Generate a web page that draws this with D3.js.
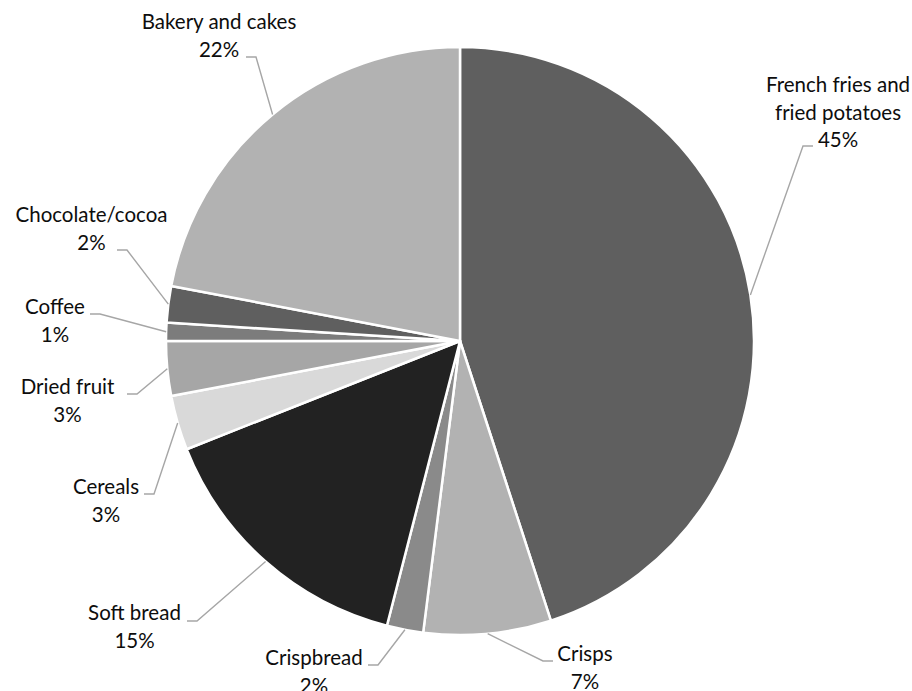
<!DOCTYPE html>
<html>
<head>
<meta charset="utf-8">
<script src="https://cdn.jsdelivr.net/npm/d3@7"></script>
<style>
  html, body { margin: 0; padding: 0; background: #ffffff; }
  svg { display: block; }
  text { font-family: Lato, "Open Sans", sans-serif; font-size: 20.5px; fill: #0d0d0d; }
</style>
</head>
<body>
<svg id="chart" width="912" height="691"></svg>
<script>
// Snack food categories, clockwise from 12 o'clock
const categories = [
  "French fries and fried potatoes",
  "Crisps",
  "Crispbread",
  "Soft bread",
  "Cereals",
  "Dried fruit",
  "Coffee",
  "Chocolate/cocoa",
  "Bakery and cakes"
];

// Share of the total, in percent
const shares = [45, 7, 2, 15, 3, 3, 1, 2, 22];

// Slice fills (greyscale palette)
const fills = ["#5f5f5f", "#b2b2b2", "#8a8a8a", "#222222", "#d9d9d9", "#a6a6a6", "#7c7c7c", "#5f5f5f", "#b2b2b2"];

// Label placement: text centre x, first baseline y, leader elbow, tail direction
const labelSpots = [
  { x: 838,   y: 92,  elbow: [803, 146], dir: 1 },
  { x: 585,   y: 661, elbow: [543, 661], dir: 1 },
  { x: 314,   y: 665, elbow: [378, 665], dir: -1 },
  { x: 134.5, y: 620, elbow: [197, 621], dir: -1 },
  { x: 106,   y: 494, elbow: [154, 494], dir: -1 },
  { x: 67.5,  y: 394, elbow: [137, 394], dir: -1 },
  { x: 55,    y: 314, elbow: [100, 314], dir: -1 },
  { x: 91.5,  y: 222, elbow: [127, 250], dir: -1 },
  { x: 219,   y: 29,  elbow: [256, 57],  dir: -1 }
];

const cx = 460, cy = 341, radius = 294;
const lineHeight = 27.5;
const maxChars = 16;

const svg = d3.select("#chart");

const data = categories.map((name, i) => ({ name, value: shares[i], fill: fills[i], spot: labelSpots[i] }));
const total = d3.sum(shares);

const pie = d3.pie().sort(null).value(d => d.value).startAngle(0).endAngle(2 * Math.PI);
const arcs = pie(data);
const arc = d3.arc().innerRadius(0).outerRadius(radius);

const g = svg.append("g").attr("transform", `translate(${cx},${cy})`);

g.selectAll("path.slice")
  .data(arcs)
  .join("path")
  .attr("class", "slice")
  .attr("d", arc)
  .attr("fill", d => d.data.fill)
  .attr("stroke", "#ffffff")
  .attr("stroke-width", 2.5)
  .attr("stroke-linejoin", "round");

// Leader lines: from the arc edge at the slice's mid-angle to the label elbow, then a short horizontal tail
const leaders = svg.append("g");
arcs.forEach(a => {
  const mid = (a.startAngle + a.endAngle) / 2;
  const px = cx + radius * Math.sin(mid);
  const py = cy - radius * Math.cos(mid);
  const s = a.data.spot;
  const tail = [s.elbow[0] + s.dir * 10, s.elbow[1]];
  leaders.append("path")
    .attr("d", d3.line()([[px, py], s.elbow, tail]))
    .attr("fill", "none")
    .attr("stroke", "#a6a6a6")
    .attr("stroke-width", 1.4);
});

// Wrap a category name into lines of at most maxChars characters
function wrap(name) {
  const words = name.split(" ");
  const lines = [];
  let cur = "";
  words.forEach(w => {
    const next = cur ? cur + " " + w : w;
    if (next.length > maxChars && cur) { lines.push(cur); cur = w; }
    else cur = next;
  });
  if (cur) lines.push(cur);
  return lines;
}

const labels = svg.append("g");
arcs.forEach(a => {
  const d = a.data;
  const pct = Math.round(d.value / total * 100) + "%";
  const lines = wrap(d.name).concat([pct]);
  const t = labels.append("text")
    .attr("text-anchor", "middle")
    .attr("x", d.spot.x)
    .attr("y", d.spot.y);
  lines.forEach((ln, i) => {
    t.append("tspan")
      .attr("x", d.spot.x)
      .attr("y", d.spot.y + i * lineHeight)
      .text(ln);
  });
});
</script>
</body>
</html>
